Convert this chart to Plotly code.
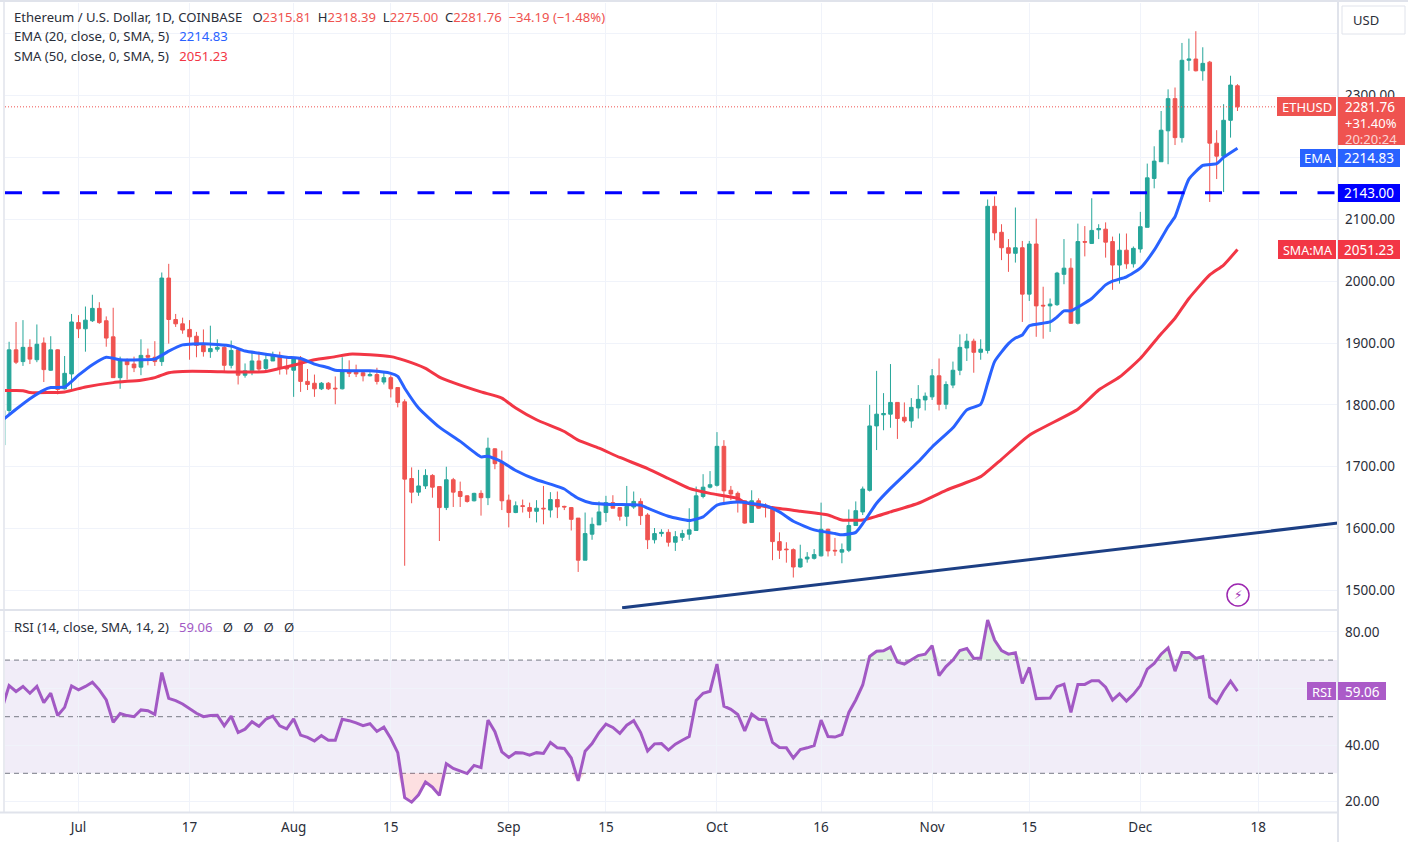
import pandas as pd
import plotly.graph_objects as go
from plotly.subplots import make_subplots

W, H = 1408, 842
START = "2023-06-21"

opens = [1791,1889,1870,1893,1873,1900,1856,1889,1826,1850,
 1933,1923,1936,1956,1936,1910,1844,1871,1866,1861,1880,1877,1870,2005,1938,1931,1922,1911,1896,1886,1890,1893,1864,1889,1848,1855,1871,1859,1871,1880,1862,
 1856,1875,1838,1835,1826,1835,1827,1826,1855,1854,1852,1847,1849,1837,1844,1828,1805,1681,1659,1669,1686,1668,1634,1679,1660,1653,1645,1657,1650,1729,1707,
 1646,1626,1637,1634,1628,1633,1630,1647,1636,1634,1617,1549,1591,1606,1626,1642,1634,1620,1635,1644,1622,1582,1592,1594,1578,1586,1591,1597,1652,1667,
 1670,1733,1662,1657,1645,1610,1645,1638,1633,1579,1567,1566,1538,1551,1552,1556,1599,1565,1562,1565,1605,1627,1662,1766,1784,1785,1804,1780,1774,1795,1808,
 1813,1847,1801,1832,1856,1892,1903,1885,1888,2121,2079,2054,2045,2054,1979,2060,1961,1960,1962,2011,2021,1932,2064,2061,2083,2084,2064,2026,2050,2028,
 2052,2087,2166,2193,2243,2295,2232,2357,2359,2340,2354,2223,2202,2260,2315.81]
highs = [1902,1934,1937,1906,1930,1909,1911,1890,1879,1947,
 1945,1959,1978,1966,1943,1957,1878,1875,1878,1906,1891,1903,2014,2028,1947,1941,1937,1918,1922,1928,1906,1896,1904,1889,1867,1887,1886,1883,1886,1886,1876,
 1876,1879,1858,1849,1837,1837,1846,1877,1872,1865,1855,1853,1860,1853,1848,1828,1809,1699,1695,1696,1688,1668,1700,1682,1676,1654,1658,1662,1747,1730,1726,
 1655,1644,1647,1642,1646,1669,1659,1660,1637,1635,1617,1626,1618,1644,1653,1654,1635,1669,1660,1649,1625,1601,1599,1599,1596,1598,1633,1668,1688,1693,
 1756,1743,1669,1660,1646,1662,1649,1641,1635,1594,1578,1568,1574,1562,1567,1642,1600,1585,1576,1631,1644,1668,1800,1855,1819,1866,1804,1804,1811,1832,1820,
 1858,1875,1838,1870,1914,1915,1907,1906,2132,2137,2092,2068,2119,2065,2065,2101,1991,1972,2015,2068,2037,2093,2089,2134,2092,2095,2072,2077,2077,2056,
 2112,2190,2218,2275,2310,2313,2385,2392,2404,2378,2356,2244,2286,2332,2318.39]
lows = [1786,1866,1863,1866,1869,1837,1855,1817,1825,1825,
 1908,1886,1934,1931,1894,1844,1826,1841,1853,1848,1864,1863,1863,1899,1926,1915,1873,1877,1878,1876,1886,1853,1859,1833,1844,1848,1853,1856,1871,1849,1849,
 1813,1821,1824,1813,1824,1824,1801,1825,1845,1845,1838,1846,1833,1833,1812,1796,1540,1641,1653,1664,1650,1580,1630,1635,1635,1642,1644,1621,1638,1696,1630,
 1602,1625,1626,1617,1610,1607,1618,1617,1630,1597,1530,1549,1582,1606,1611,1633,1613,1604,1632,1606,1567,1576,1587,1571,1564,1580,1582,1597,1649,1665,
 1668,1638,1646,1626,1608,1610,1632,1618,1549,1551,1545,1521,1537,1545,1550,1555,1555,1556,1544,1562,1605,1622,1660,1727,1759,1763,1745,1771,1763,1778,1791,
 1808,1791,1793,1827,1848,1871,1852,1873,1883,2066,2034,2015,2030,1934,1968,1910,1907,1918,1960,1995,1931,1930,2040,2060,2068,2038,1986,1996,2020,2022,
 2046,2087,2150,2193,2189,2220,2224,2340,2339,2324,2128,2165,2144,2232,2275.00]
closes = [1889,1869,1893,1874,1898,1857,1889,1825,1851,1934,
 1923,1937,1956,1933,1908,1844,1871,1865,1860,1880,1877,1870,2005,1938,1931,1921,1910,1896,1886,1891,1893,1864,1888,1848,1855,1871,1858,1873,1880,1859,1858,
 1874,1838,1833,1826,1835,1826,1826,1855,1851,1850,1847,1849,1838,1844,1826,1804,1680,1659,1669,1686,1667,1634,1679,1659,1652,1644,1657,1650,1730,1705,1645,
 1626,1637,1636,1628,1633,1632,1647,1635,1635,1615,1549,1592,1607,1627,1642,1633,1620,1636,1644,1621,1582,1592,1594,1578,1587,1592,1598,1653,1667,1671,
 1733,1661,1656,1645,1609,1645,1633,1637,1579,1565,1566,1538,1551,1554,1558,1599,1564,1564,1566,1605,1629,1664,1766,1785,1786,1804,1778,1774,1796,1809,1814,
 1847,1801,1833,1856,1893,1903,1885,1890,2121,2078,2054,2045,2054,1979,2060,1960,1960,1963,2013,2021,1932,2064,2063,2082,2085,2063,2026,2050,2028,2053,
 2088,2167,2194,2244,2295,2232,2357,2359,2340,2352,2223,2202,2260,2317,2281.76]

first_wick_dates = ["2023-06-20 10:00", "2023-06-20 10:00"]
first_wick_values = [1791, 1735]

ema_dates = ["2023-06-20","2023-06-22","2023-06-24","2023-06-26","2023-06-27","2023-06-29","2023-07-01","2023-07-03","2023-07-05","2023-07-07","2023-07-10","2023-07-12","2023-07-14","2023-07-16","2023-07-19","2023-07-23","2023-07-25","2023-07-28","2023-07-31","2023-08-02","2023-08-04","2023-08-06","2023-08-07","2023-08-12","2023-08-15","2023-08-16","2023-08-17","2023-08-19","2023-08-22","2023-08-25","2023-08-28","2023-08-29","2023-08-31","2023-09-02","2023-09-05","2023-09-07","2023-09-09","2023-09-10","2023-09-11","2023-09-13","2023-09-16","2023-09-20","2023-09-21","2023-09-24","2023-09-27","2023-09-29","2023-10-01","2023-10-04","2023-10-08","2023-10-10","2023-10-12","2023-10-15","2023-10-18","2023-10-19","2023-10-21","2023-10-22","2023-10-24","2023-10-26","2023-10-30","2023-11-01","2023-11-04","2023-11-06","2023-11-08","2023-11-09","2023-11-10","2023-11-12","2023-11-13","2023-11-14","2023-11-15","2023-11-18","2023-11-19","2023-11-20","2023-11-21","2023-11-24","2023-11-26","2023-11-27","2023-11-29","2023-12-01","2023-12-03","2023-12-05","2023-12-06","2023-12-07","2023-12-08","2023-12-10","2023-12-12","2023-12-13","2023-12-15"]
ema_values = [1775,1793,1810,1824,1828,1829,1848,1865,1877,1873,1873,1874,1887,1897,1899,1895,1887,1882,1877,1875,1866,1860,1856,1855,1851,1846,1827,1795,1764,1741,1716,1717,1708,1694,1679,1672,1664,1656,1649,1641,1639,1638,1633,1620,1613,1619,1638,1643,1637,1627,1612,1598,1592,1590,1594,1608,1641,1665,1708,1732,1763,1792,1801,1835,1870,1899,1908,1913,1928,1934,1942,1952,1952,1972,1994,2000,2007,2021,2050,2088,2104,2136,2165,2187,2190,2200,2214.83]

sma_dates = ["2023-06-20","2023-06-23","2023-06-24","2023-06-29","2023-07-02","2023-07-06","2023-07-10","2023-07-12","2023-07-14","2023-07-16","2023-07-20","2023-07-24","2023-07-28","2023-07-30","2023-08-02","2023-08-04","2023-08-07","2023-08-09","2023-08-12","2023-08-15","2023-08-17","2023-08-20","2023-08-22","2023-08-24","2023-08-28","2023-08-31","2023-09-02","2023-09-05","2023-09-09","2023-09-11","2023-09-14","2023-09-17","2023-09-21","2023-09-24","2023-09-27","2023-09-30","2023-10-04","2023-10-05","2023-10-09","2023-10-13","2023-10-17","2023-10-19","2023-10-22","2023-10-24","2023-10-26","2023-10-30","2023-11-03","2023-11-08","2023-11-11","2023-11-15","2023-11-22","2023-11-25","2023-11-28","2023-12-01","2023-12-04","2023-12-06","2023-12-08","2023-12-11","2023-12-13","2023-12-15"]
sma_values = [1823,1823,1820,1821,1829,1836,1840,1844,1852,1854,1854,1853,1854,1859,1867,1873,1878,1882,1881,1878,1872,1859,1845,1836,1821,1811,1795,1776,1757,1743,1730,1715,1697,1681,1665,1657,1649,1642,1634,1628,1622,1614,1614,1620,1627,1641,1662,1684,1712,1751,1793,1824,1845,1875,1915,1940,1972,2010,2026,2051.23]

rsi_values = [53.0,
 61.0,58.9,60.7,58.3,60.7,55.0,58.3,50.4,53.3,60.9,
 59.5,60.7,62.2,59.5,55.9,48.0,51.1,50.4,50.0,52.4,52.1,50.8,65.6,56.5,55.7,54.5,52.7,51.2,50.0,50.4,50.5,46.8,50.2,44.4,45.6,48.2,46.6,49.1,50.2,46.8,45.7,
 49.2,43.5,42.7,41.4,43.3,41.7,41.7,49.1,48.6,47.8,46.8,47.5,44.8,46.3,42.3,37.3,21.4,19.8,22.4,26.9,25.1,22.2,33.4,31.7,30.8,29.9,32.8,32.0,48.8,44.7,37.6,
 35.6,37.3,37.2,36.4,37.3,37.0,40.9,39.0,38.8,35.4,27.3,37.8,40.5,44.4,47.4,46.2,44.1,47.0,48.6,44.4,37.9,40.4,40.5,38.2,40.3,41.7,43.0,55.7,58.3,59.0,
 68.6,53.7,52.6,50.8,45.0,50.9,49.1,48.9,40.9,39.1,39.0,35.4,38.4,39.0,39.8,48.8,43.0,42.8,43.7,51.5,55.9,61.2,71.3,73.1,73.3,74.6,69.3,68.6,70.0,71.6,72.1,
 75.1,64.5,67.7,70.0,73.4,74.1,70.6,70.7,84.2,77.1,73.4,72.1,72.6,61.8,67.4,56.4,56.4,56.6,60.6,61.5,51.5,61.4,61.4,62.7,62.7,60.4,55.9,58.1,55.5,57.9,
 61.0,66.8,68.8,72.1,74.3,66.1,72.7,72.7,70.6,71.2,56.9,54.8,59.1,62.6,59.06]

trend_dates = ["2023-09-17 08:00", "2023-12-29 12:00"]
trend_values = [1472, 1609]
support_level = 2143.00
last_price = 2281.76

price_ticks = [1500,1600,1700,1800,1900,2000,2100,2200,2300,2400]
price_labels = ["1500.00","1600.00","1700.00","1800.00","1900.00","2000.00","2100.00","","2300.00",""]
rsi_ticks = [20,40,60,80]
rsi_labels = ["20.00","40.00","","80.00"]
time_ticks = ["2023-07-01","2023-07-17","2023-08-01","2023-08-15","2023-09-01","2023-09-15","2023-10-01","2023-10-16","2023-11-01","2023-11-15","2023-12-01","2023-12-18"]
time_labels = ["Jul","17","Aug","15","Sep","15","Oct","16","Nov","15","Dec","18"]

dates = pd.date_range(START, periods=len(closes), freq="D")
rsi_dates = pd.date_range("2023-06-20", periods=len(rsi_values), freq="D")

UP, DOWN = "#26a69a", "#ef5350"
EMA_C, SMA_C, RSI_C = "#2962ff", "#f23645", "#a259c4"
GRID, EDGE, TXT = "#f0f3fa", "#e0e3eb", "#131722"
FONT = "Noto Sans"

def xp(x): return x / W
def yp(y): return 1 - y / H

PANE_L, PANE_R = 5, 1338
MAIN_T, MAIN_B = 3, 609
RSI_T, RSI_B = 611, 812

fig = make_subplots(rows=2, cols=1, shared_xaxes=True)

fig.add_trace(go.Candlestick(x=dates, open=opens, high=highs, low=lows, close=closes,
    increasing=dict(line=dict(color=UP, width=1), fillcolor=UP),
    decreasing=dict(line=dict(color=DOWN, width=1), fillcolor=DOWN),
    hoverinfo="skip", showlegend=False), row=1, col=1)
fig.add_trace(go.Scatter(x=first_wick_dates, y=first_wick_values, mode="lines",
    line=dict(color="rgba(38,166,154,0.6)", width=1), hoverinfo="skip"), row=1, col=1)
fig.add_trace(go.Scatter(x=sma_dates, y=sma_values, mode="lines",
    line=dict(color=SMA_C, width=3, shape="spline", smoothing=0.5), hoverinfo="skip"), row=1, col=1)
fig.add_trace(go.Scatter(x=ema_dates, y=ema_values, mode="lines",
    line=dict(color=EMA_C, width=3, shape="spline", smoothing=0.5), hoverinfo="skip"), row=1, col=1)
fig.add_trace(go.Scatter(x=trend_dates, y=trend_values, mode="lines",
    line=dict(color="#1c3f84", width=3), hoverinfo="skip"), row=1, col=1)

over = [max(v, 70) for v in rsi_values]
under = [min(v, 30) for v in rsi_values]
fig.add_trace(go.Scatter(x=rsi_dates, y=[70]*len(rsi_values), mode="lines", line=dict(width=0), hoverinfo="skip"), row=2, col=1)
fig.add_trace(go.Scatter(x=rsi_dates, y=over, mode="lines", line=dict(width=0), fill="tonexty", fillcolor="rgba(76,175,80,0.16)", hoverinfo="skip"), row=2, col=1)
fig.add_trace(go.Scatter(x=rsi_dates, y=[30]*len(rsi_values), mode="lines", line=dict(width=0), hoverinfo="skip"), row=2, col=1)
fig.add_trace(go.Scatter(x=rsi_dates, y=under, mode="lines", line=dict(width=0), fill="tonexty", fillcolor="rgba(242,54,69,0.16)", hoverinfo="skip"), row=2, col=1)
fig.add_trace(go.Scatter(x=rsi_dates, y=rsi_values, mode="lines", line=dict(color=RSI_C, width=3), hoverinfo="skip"), row=2, col=1)

x0 = pd.Timestamp("2023-07-01") + pd.Timedelta(days=(PANE_L - 78.5) / 6.94)
x1 = pd.Timestamp("2023-07-01") + pd.Timedelta(days=(PANE_R - 78.5) / 6.94)
y_of = lambda py: 1500 + (590.5 - py) / 0.6187
r_of = lambda py: 50 + (716.7 - py) / 2.83

AX = dict(family=FONT, size=13.5, color="#2a2e39")
fig.update_xaxes(range=[x0, x1], showgrid=True, gridcolor=GRID, gridwidth=1, zeroline=False,
                 tickmode="array", tickvals=time_ticks, ticktext=time_labels,
                 rangeslider_visible=False, showline=False, ticks="")
fig.update_xaxes(domain=[xp(PANE_L), xp(PANE_R)])
fig.update_xaxes(showticklabels=False, row=1, col=1)
fig.update_xaxes(showticklabels=True, tickfont=AX, ticklabelstandoff=5, row=2, col=1)
fig.update_yaxes(side="right", showgrid=True, gridcolor=GRID, gridwidth=1, zeroline=False, ticks="", showline=False,
                 tickfont=AX, ticklabelstandoff=6)
fig.update_yaxes(domain=[yp(MAIN_B), yp(MAIN_T)], range=[y_of(MAIN_B), y_of(MAIN_T)],
                 tickmode="array", tickvals=price_ticks, ticktext=price_labels, row=1, col=1)
fig.update_yaxes(domain=[yp(RSI_B), yp(RSI_T)], range=[r_of(RSI_B), r_of(RSI_T)],
                 tickmode="array", tickvals=rsi_ticks, ticktext=rsi_labels, row=2, col=1)

shapes = []
def pbox(x0_, y0_, x1_, y1_, fill, line=None, layer="above"):
    shapes.append(dict(type="rect", xref="paper", yref="paper", x0=xp(x0_), x1=xp(x1_), y0=yp(y0_), y1=yp(y1_),
                       fillcolor=fill, line=dict(color=line or fill, width=1 if line else 0), layer=layer))
def pline(x0_, y0_, x1_, y1_, color=EDGE, width=2):
    shapes.append(dict(type="line", xref="paper", yref="paper", x0=xp(x0_), x1=xp(x1_), y0=yp(y0_), y1=yp(y1_),
                       line=dict(color=color, width=width), layer="above"))

shapes.append(dict(type="rect", xref="paper", yref="y2", x0=xp(PANE_L), x1=xp(PANE_R), y0=30, y1=70,
                   fillcolor="rgba(126,87,194,0.11)", line=dict(width=0), layer="below"))
for lv in (70, 50, 30):
    shapes.append(dict(type="line", xref="paper", yref="y2", x0=xp(PANE_L), x1=xp(PANE_R), y0=lv, y1=lv,
                       line=dict(color="#787b86", width=1, dash="5px,4px"), layer="below"))
shapes.append(dict(type="line", xref="paper", yref="y", x0=xp(PANE_L), x1=xp(PANE_R), y0=support_level, y1=support_level,
                   line=dict(color="#0000ff", width=3, dash="17px,20.5px"), layer="above"))
shapes.append(dict(type="line", xref="paper", yref="y", x0=xp(PANE_L), x1=xp(1277), y0=last_price, y1=last_price,
                   line=dict(color=DOWN, width=1, dash="1px,2px"), layer="above"))
pline(PANE_R, 0, PANE_R, H)
pline(PANE_L - 1, 0, PANE_L - 1, 812, width=1.5)
pline(0, 610, PANE_R, 610)
pline(0, 812.5, PANE_R, 812.5)
pline(0, 1, W, 1)

pbox(1338, 97, 1405, 145, DOWN)
pbox(1277, 97, 1336, 116, DOWN)
pbox(1338, 149, 1400, 167, EMA_C)
pbox(1300, 149, 1336, 167, EMA_C)
pbox(1338, 184, 1400, 202, "#0000ff")
pbox(1338, 240, 1400, 259, SMA_C)
pbox(1278, 240, 1336, 259, SMA_C)
pbox(1338, 682, 1386, 700, "#ab5bc8")
pbox(1307, 682, 1336, 700, "#ab5bc8")
shapes.append(dict(type="rect", xref="paper", yref="paper", x0=xp(1342), x1=xp(1405), y0=yp(6), y1=yp(34),
                   fillcolor="white", line=dict(color="#e0e3eb", width=1), layer="above"))
shapes.append(dict(type="circle", xref="paper", yref="paper", x0=xp(1227), x1=xp(1249), y0=yp(606), y1=yp(584),
                   fillcolor="white", line=dict(color="#9c27b0", width=1.5), layer="above"))

annots = []
def txt(x, y, s, color="#2a2e39", size=13.5, anchor="left", family=FONT):
    annots.append(dict(xref="paper", yref="paper", x=xp(x), y=yp(y), text=s, showarrow=False, xanchor=anchor,
                       yanchor="middle", align=anchor, font=dict(family=family, size=size, color=color)))

R = DOWN
GAP = "&nbsp;&nbsp;&nbsp;"
hdr = ("Ethereum / U.S. Dollar, 1D, COINBASE&nbsp;&nbsp;&nbsp;"
       f"O<span style='color:{R}'>2315.81</span>&nbsp;&nbsp;H<span style='color:{R}'>2318.39</span>&nbsp;&nbsp;"
       f"L<span style='color:{R}'>2275.00</span>&nbsp;&nbsp;C<span style='color:{R}'>2281.76</span>&nbsp;&nbsp;"
       f"<span style='color:{R}'>\u221234.19 (\u22121.48%)</span>")
txt(12, 17, hdr, size=13.1)
txt(12, 36.5, f"EMA (20, close, 0, SMA, 5){GAP}<span style='color:{EMA_C}'>2214.83</span>", size=13.1)
txt(12, 56, f"SMA (50, close, 0, SMA, 5){GAP}<span style='color:{SMA_C}'>2051.23</span>", size=13.1)
txt(12, 627, f"RSI (14, close, SMA, 14, 2){GAP}<span style='color:{RSI_C}'>59.06</span>{GAP}\u00d8{GAP}\u00d8{GAP}\u00d8{GAP}\u00d8", size=13.1)

txt(1351, 20, "USD", size=13)
txt(1370, 107, "2281.76", "white", 13.5, "center")
txt(1371, 123, "+31.40%", "white", 13, "center")
txt(1371, 139, "20:20:24", "#fbd5d4", 13, "center")
txt(1306.5, 107, "ETHUSD", "white", 13, "center")
txt(1369, 158, "2214.83", "white", 13.5, "center")
txt(1318, 158, "EMA", "white", 13, "center")
txt(1369, 193, "2143.00", "white", 13.5, "center")
txt(1369, 250, "2051.23", "white", 13.5, "center")
txt(1307, 250, "SMA:MA", "white", 12.5, "center")
txt(1362, 692, "59.06", "white", 13.5, "center")
txt(1321.5, 692, "RSI", "white", 13, "center")
txt(1238, 595, "\u26a1", "#9c27b0", 12, "center", "DejaVu Sans")

fig.update_layout(width=W, height=H, margin=dict(l=0, r=0, t=0, b=0), autosize=False,
                  plot_bgcolor="white", paper_bgcolor="white", showlegend=False,
                  shapes=shapes, annotations=annots, hovermode=False, boxgap=0.25,
                  font=dict(family=FONT, color=TXT))
fig.write_html("out.html", config={"displayModeBar": False},
               post_script="document.documentElement.style.overflow='hidden';document.body.style.margin='0';document.body.style.padding='0';")
